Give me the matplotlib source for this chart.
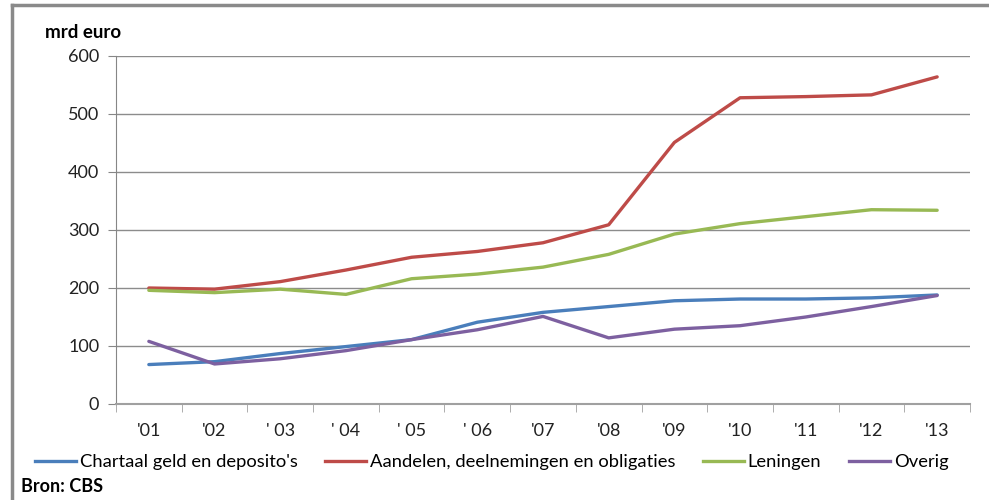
import matplotlib.pyplot as plt
from matplotlib.lines import Line2D

plt.rcParams['font.family'] = ['Lato', 'DejaVu Sans']

years = ["'01", "'02", "' 03", "' 04", "' 05", "' 06", "'07", "'08", "'09", "'10", "'11", "'12", "'13"]
chartaal = [68, 73, 87, 99, 111, 141, 158, 168, 178, 181, 181, 183, 188]
aandelen = [200, 198, 211, 231, 253, 263, 278, 309, 451, 528, 530, 533, 564]
leningen = [196, 192, 198, 189, 216, 224, 236, 258, 293, 311, 323, 335, 334]
overig = [108, 69, 78, 92, 111, 128, 151, 114, 129, 135, 150, 168, 187]

series = [
    ("Chartaal geld en deposito's", chartaal, '#4a7ebb'),
    ("Aandelen, deelnemingen en obligaties", aandelen, '#be4b48'),
    ("Leningen", leningen, '#98b954'),
    ("Overig", overig, '#7d60a0'),
]

fig = plt.figure(figsize=(9.89, 5), dpi=100)
ax = fig.add_axes([116/989, 1 - 404/500, (970 - 116)/989, (404 - 56)/500])

x = list(range(len(years)))
for name, vals, col in series:
    ax.plot(x, vals, color=col, lw=2.4, label=name, solid_capstyle='round')

ax.set_xlim(-0.5, len(years) - 0.5)
ax.set_ylim(0, 600)
ax.set_yticks(range(0, 601, 100))
ax.set_xticks(x)
ax.set_xticklabels(years)
ax.set_xticks([i - 0.5 for i in range(len(years) + 1)], minor=True)
ax.tick_params(axis='x', which='major', length=0, pad=14, labelsize=13, colors='#222222')
ax.tick_params(axis='x', which='minor', length=6, color='#a0a0a0', direction='out')
ax.tick_params(axis='y', length=6, color='#868686', pad=6, labelsize=13, colors='#222222')
ax.grid(axis='y', color='#8c8c8c', lw=1)
ax.set_axisbelow(True)
for s in ['top', 'right']:
    ax.spines[s].set_visible(False)
ax.spines['left'].set_color('#868686')
ax.spines['bottom'].set_color('#a0a0a0')
ax.spines['bottom'].set_linewidth(1.5)

fig.text(45/989, 1 - 32/500, 'mrd euro', fontsize=13.5, fontweight='bold', va='center', ha='left')
fig.text(21/989, 1 - 487/500, 'Bron: CBS', fontsize=13, fontweight='bold', va='center', ha='left')

handles = [Line2D([0], [0], color=c, lw=2.4) for _, _, c in series]
fig.legend(handles, [n for n, _, _ in series], loc='center', bbox_to_anchor=(0.497, 1 - 462/500),
           ncol=4, frameon=False, fontsize=13.2, handlelength=2.25, handletextpad=0.2,
           columnspacing=1.5)

# chart area border (top and left only visible)
fig.add_artist(Line2D([12/989, 1], [1 - 5/500, 1 - 5/500], color='#8a8a8a', lw=2.5))
fig.add_artist(Line2D([12/989, 12/989], [0, 1 - 5/500], color='#8a8a8a', lw=2.5))

fig.savefig('out.png', dpi=100)
